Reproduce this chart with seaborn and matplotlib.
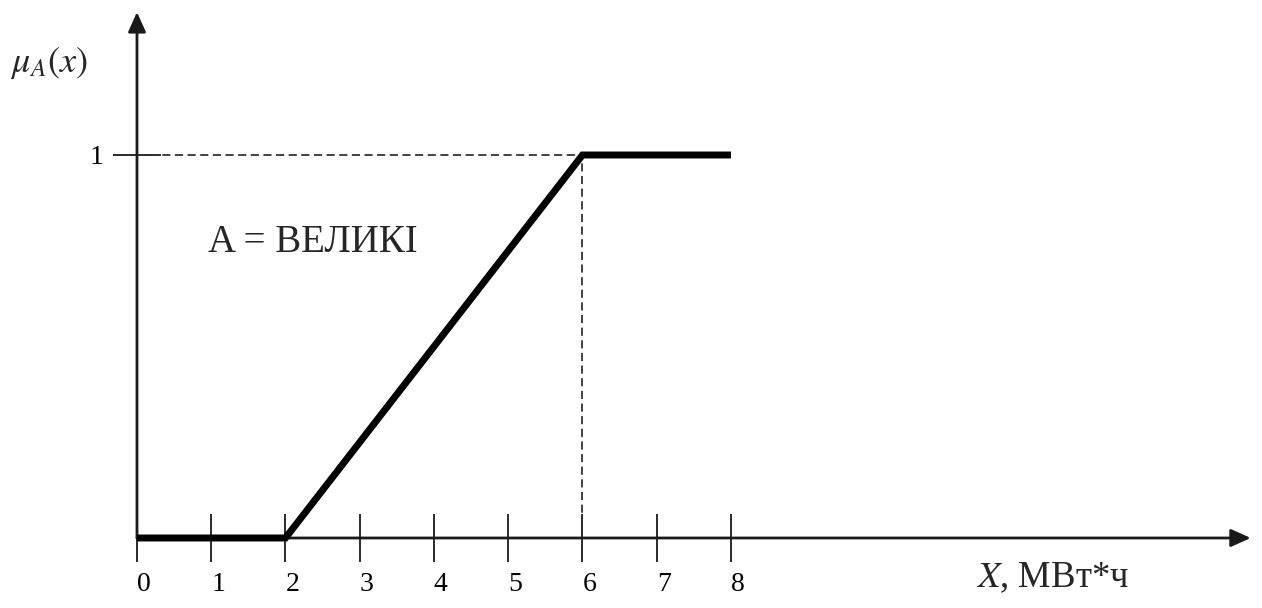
import matplotlib
matplotlib.use("Agg")
import matplotlib.pyplot as plt
import seaborn as sns

# Membership function of the fuzzy set "A = ВЕЛИКІ"
x_points = [0, 2, 6, 8]
mu_points = [0, 0, 1, 1]
x_ticks = [0, 1, 2, 3, 4, 5, 6, 7, 8]
y_ticks = [1]
peak_x = 6
set_label = "A = ВЕЛИКІ"
x_label = r"$X$, МВт*ч"
y_label = r"$\mu_A(x)$"

sns.set_theme(style="white")
plt.rcParams["font.family"] = ["Liberation Serif", "DejaVu Serif"]
plt.rcParams["mathtext.fontset"] = "stix"

fig = plt.figure(figsize=(12.62, 6.08), dpi=100)
ax = fig.add_axes([0, 0, 1, 1])
ax.set_xlim(-1.845, 15.152)
ax.set_ylim(-0.1828, 1.4047)

for s in ax.spines.values():
    s.set_visible(False)
ax.spines["bottom"].set_position(("data", 0))
ax.spines["left"].set_position(("data", 0))

axis_color = "#1a1a1a"
arrow_kw = dict(arrowstyle="-|>,head_length=0.6,head_width=0.27",
                mutation_scale=20, lw=2.0, color=axis_color,
                shrinkA=0, shrinkB=0)
ax.annotate("", xy=(15.0, 0), xytext=(0, 0), arrowprops=arrow_kw, zorder=2)
ax.annotate("", xy=(0, 1.373), xytext=(0, 0), arrowprops=arrow_kw, zorder=2)

# guide lines to the point where the function reaches 1
ax.plot([0, peak_x], [1, 1], ls=(0, (4.5, 2.5)), lw=1.3, color="#333333", zorder=1)
ax.plot([peak_x, peak_x], [0, 1], ls=(0, (4.5, 2.5)), lw=1.3, color="#333333", zorder=1)

sns.lineplot(x=x_points, y=mu_points, ax=ax, color="black", lw=5.0,
             solid_joinstyle="miter", solid_capstyle="butt", zorder=3)

ax.set_xticks(x_ticks)
ax.set_xticklabels([str(t) for t in x_ticks], ha="left")
ax.set_yticks(y_ticks)
ax.set_yticklabels([str(t) for t in y_ticks])
ax.tick_params(axis="both", direction="inout", length=34.5, width=1.3,
               color=axis_color, labelsize=20, labelcolor="black", pad=7)
ax.tick_params(axis="x", bottom=True)
ax.tick_params(axis="y", left=True)

ax.text(0.956, 0.747, set_label, fontsize=28, va="baseline", ha="left")
ax.text(-1.71, 1.217, y_label, fontsize=26, va="baseline", ha="left")
ax.text(11.3, -0.128, x_label, fontsize=26.5, va="baseline", ha="left")

ax.set_xlabel("")
ax.set_ylabel("")
fig.savefig("out.png", dpi=100)
